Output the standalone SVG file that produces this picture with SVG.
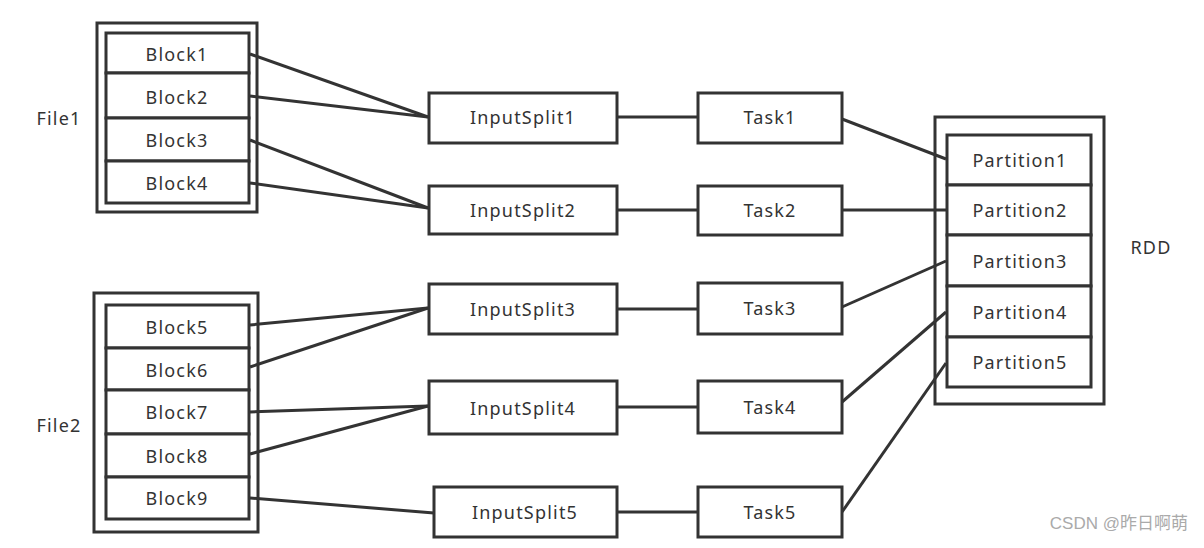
<svg xmlns="http://www.w3.org/2000/svg" width="1204" height="548" viewBox="0 0 1204 548">
<style>
.b{fill:#fff;stroke:#333;stroke-width:3}
.o{fill:none;stroke:#333;stroke-width:3}
.t{font-family:"Noto Sans","Open Sans",sans-serif;font-size:18px;letter-spacing:1.2px;fill:#333;text-anchor:middle;dominant-baseline:central}
.c line{stroke:#333;stroke-width:3}
</style>
<rect width="1204" height="548" fill="#fff"/>
<g class="c" id="connectors">
<line x1="250" y1="54" x2="428" y2="117"/>
<line x1="250" y1="96" x2="428" y2="117"/>
<line x1="250" y1="140" x2="428" y2="208"/>
<line x1="250" y1="183" x2="428" y2="208"/>
<line x1="250" y1="325" x2="428" y2="308"/>
<line x1="250" y1="367" x2="428" y2="308"/>
<line x1="250" y1="412" x2="428" y2="406"/>
<line x1="250" y1="454" x2="428" y2="406"/>
<line x1="250" y1="498" x2="434" y2="513"/>
<line x1="617" y1="117" x2="698" y2="117"/>
<line x1="617" y1="210" x2="698" y2="210"/>
<line x1="617" y1="309" x2="698" y2="309"/>
<line x1="617" y1="407" x2="698" y2="407"/>
<line x1="617" y1="512" x2="698" y2="512"/>
<line x1="842" y1="119" x2="946" y2="159"/>
<line x1="842" y1="210" x2="946" y2="210"/>
<line x1="842" y1="307" x2="946" y2="261"/>
<line x1="842" y1="402" x2="946" y2="312"/>
<line x1="842" y1="512" x2="946" y2="363"/>
</g>
<g id="file1">
<rect class="o" x="97" y="23" width="160" height="189"/>
<text class="t" x="59" y="118">File1</text>
</g>
<g id="block1"><rect class="b" x="106" y="33" width="143" height="40"/><text class="t" x="177" y="54">Block1</text></g>
<g id="block2"><rect class="b" x="106" y="73" width="143" height="45"/><text class="t" x="177" y="97">Block2</text></g>
<g id="block3"><rect class="b" x="106" y="118" width="143" height="43"/><text class="t" x="177" y="140">Block3</text></g>
<g id="block4"><rect class="b" x="106" y="161" width="143" height="42"/><text class="t" x="177" y="183">Block4</text></g>
<g id="file2">
<rect class="o" x="94" y="293" width="164" height="239"/>
<text class="t" x="59" y="425">File2</text>
</g>
<g id="block5"><rect class="b" x="106" y="305" width="143" height="43"/><text class="t" x="177" y="327">Block5</text></g>
<g id="block6"><rect class="b" x="106" y="348" width="143" height="42"/><text class="t" x="177" y="370">Block6</text></g>
<g id="block7"><rect class="b" x="106" y="390" width="143" height="44"/><text class="t" x="177" y="412">Block7</text></g>
<g id="block8"><rect class="b" x="106" y="434" width="143" height="43"/><text class="t" x="177" y="456">Block8</text></g>
<g id="block9"><rect class="b" x="106" y="477" width="143" height="42"/><text class="t" x="177" y="498">Block9</text></g>
<g id="is1"><rect class="b" x="429" y="93" width="188" height="50"/><text class="t" x="523" y="117">InputSplit1</text></g>
<g id="is2"><rect class="b" x="429" y="186" width="188" height="48"/><text class="t" x="523" y="210">InputSplit2</text></g>
<g id="is3"><rect class="b" x="429" y="284" width="188" height="50"/><text class="t" x="523" y="309">InputSplit3</text></g>
<g id="is4"><rect class="b" x="429" y="381" width="188" height="53"/><text class="t" x="523" y="408">InputSplit4</text></g>
<g id="is5"><rect class="b" x="434" y="487" width="183" height="50"/><text class="t" x="525" y="512">InputSplit5</text></g>
<g id="task1"><rect class="b" x="698" y="93" width="144" height="50"/><text class="t" x="770" y="117">Task1</text></g>
<g id="task2"><rect class="b" x="698" y="186" width="144" height="49"/><text class="t" x="770" y="210">Task2</text></g>
<g id="task3"><rect class="b" x="698" y="283" width="144" height="51"/><text class="t" x="770" y="308">Task3</text></g>
<g id="task4"><rect class="b" x="698" y="381" width="144" height="52"/><text class="t" x="770" y="407">Task4</text></g>
<g id="task5"><rect class="b" x="698" y="487" width="144" height="50"/><text class="t" x="770" y="512">Task5</text></g>
<g id="rdd">
<rect class="o" x="935" y="117" width="169" height="287"/>
<text class="t" x="1151" y="247">RDD</text>
</g>
<g id="p1"><rect class="b" x="947" y="135" width="144" height="50"/><text class="t" x="1020" y="160">Partition1</text></g>
<g id="p2"><rect class="b" x="947" y="185" width="144" height="50"/><text class="t" x="1020" y="210">Partition2</text></g>
<g id="p3"><rect class="b" x="947" y="235" width="144" height="51"/><text class="t" x="1020" y="261">Partition3</text></g>
<g id="p4"><rect class="b" x="947" y="286" width="144" height="51"/><text class="t" x="1020" y="312">Partition4</text></g>
<g id="p5"><rect class="b" x="947" y="337" width="144" height="50"/><text class="t" x="1020" y="362">Partition5</text></g>
<text x="1188" y="529" style="font-family:'Liberation Sans','Noto Sans CJK SC',sans-serif;font-size:17px;fill:#aaa;text-anchor:end">CSDN @昨日啊萌</text>
</svg>
